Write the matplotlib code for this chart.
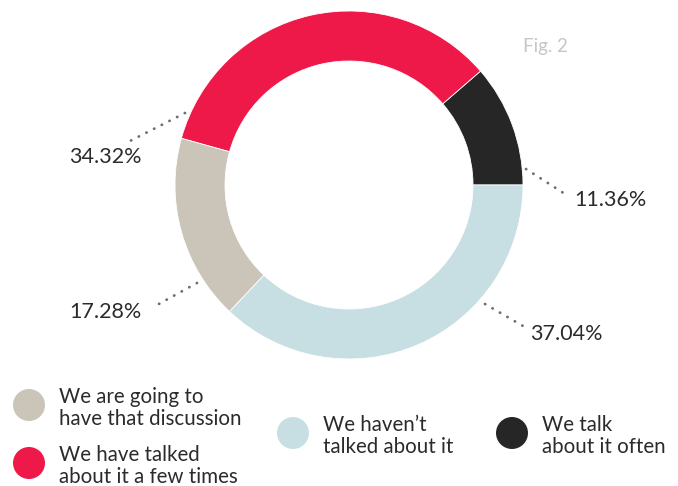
import matplotlib.pyplot as plt

plt.rcParams['font.family'] = ['Lato', 'DejaVu Sans']

# share of answers, drawn counter-clockwise from 3 o'clock
labels = ["We talk\nabout it often",
          "We have talked\nabout it a few times",
          "We are going to\nhave that discussion",
          "We haven\u2019t\ntalked about it"]
shares = [11.36, 34.32, 17.28, 37.04]
pct_labels = ["11.36%", "34.32%", "17.28%", "37.04%"]
colors = ["#262626", "#EE1849", "#CBC4B9", "#C7DEE2"]

W, H = 678, 486
fig = plt.figure(figsize=(W / 100, H / 100), dpi=100)
ax = fig.add_axes([0, 0, 1, 1])

def Y(y):
    # pixel row (from top) to data y
    return H - y

cx, cy, r_out, ring = 349, 185, 174, 50
ax.pie(shares, colors=colors, startangle=0, counterclock=True,
       center=(cx, Y(cy)), radius=r_out,
       wedgeprops=dict(width=ring, edgecolor="white", linewidth=0.6))
ax.set_xlim(0, W)
ax.set_ylim(0, H)
ax.set_aspect("equal")
ax.axis("off")

txt = "#2b2b2b"
dot = "#6e6e6e"

# leader lines and value labels
leaders = [((526, 169), (565, 194), (574, 200), "left"),
           ((185, 113), (130, 141), (142, 157), "right"),
           ((197, 283), (157, 305), (142, 312), "right"),
           ((485, 304), (523, 326), (530, 334), "left")]
for (p0, p1, pt, ha), lab in zip(leaders, pct_labels):
    ax.plot([p0[0], p1[0]], [Y(p0[1]), Y(p1[1])], color=dot, lw=2,
            linestyle=(0, (0.1, 3)), dash_capstyle="round")
    ax.text(pt[0], Y(pt[1]), lab, ha=ha, va="center", fontsize=15.5, color=txt)

ax.text(545, Y(47), "Fig. 2", ha="center", va="center", fontsize=13.5, color="#c6c6c6")

# legend
legend_pos = [(512, 433), (29, 463), (29, 405), (293, 433)]
for (lx, ly), lab, c in zip(legend_pos, labels, colors):
    ax.add_patch(plt.Circle((lx, Y(ly)), 16, color=c, lw=0))
    l1, l2 = lab.split("\n")
    ax.text(lx + 30, Y(ly - 2), l1, ha="left", va="baseline", fontsize=14.8, color=txt)
    ax.text(lx + 30, Y(ly + 20), l2, ha="left", va="baseline", fontsize=14.8, color=txt)

fig.savefig("out.png", dpi=100)
